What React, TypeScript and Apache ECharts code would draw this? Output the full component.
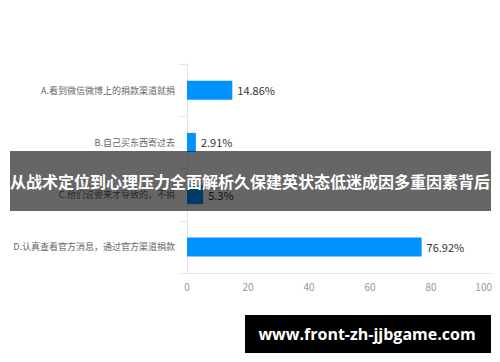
import React, { useEffect, useRef } from "react";
import * as echarts from "echarts";

const categories = [
  "A.看到微信微博上的捐款渠道就捐",
  "B.自己买东西寄过去",
  "C.他们说要来才导致的，不捐",
  "D.认真查看官方消息，通过官方渠道捐款",
];
const values = [14.86, 2.91, 5.3, 76.92];
const xTicks = [0, 20, 40, 60, 80, 100];
const bannerTitle = "从战术定位到心理压力全面解析久保建英状态低迷成因多重因素背后";
const watermark = "www.front-zh-jjbgame.com";

const FONT = "'Noto Sans CJK SC', 'Noto Sans', sans-serif";

export default function App() {
  const ref = useRef<HTMLDivElement>(null);
  useEffect(() => {
    if (!ref.current) return;
    const chart = echarts.init(ref.current, undefined, { renderer: "svg" });
    chart.setOption({
      animation: false,
      textStyle: { fontFamily: FONT },
      grid: { left: 187, right: 8, top: 64, bottom: 89, containLabel: false },
      xAxis: {
        type: "value",
        min: xTicks[0],
        max: xTicks[xTicks.length - 1],
        interval: 20,
        axisLine: { show: true, lineStyle: { color: "#E0E6F1" } },
        axisTick: { show: false },
        splitLine: { show: false },
        axisLabel: { color: "#999", fontSize: 10, margin: 8, alignMaxLabel: "right", fontFamily: FONT },
      },
      yAxis: {
        type: "category",
        inverse: true,
        data: categories,
        axisLine: { show: true, lineStyle: { color: "#E0E6F1" } },
        axisTick: { show: true, length: 8, lineStyle: { color: "#E0E6F1" } },
        axisLabel: { color: "#666", fontSize: 9, margin: 12, fontFamily: FONT },
      },
      series: [
        {
          type: "bar",
          data: values,
          barWidth: 19,
          itemStyle: { color: "#0092FF" },
          label: {
            show: true,
            position: "right",
            distance: 5,
            color: "#333",
            fontSize: 11,
            fontFamily: FONT,
            formatter: (p: any) => p.value + "%",
          },
        },
      ],
      graphic: [
        {
          type: "rect",
          z: 100,
          shape: { x: 10, y: 151, width: 481, height: 60 },
          style: { fill: "rgba(0,0,0,0.6)" },
        },
        {
          type: "text",
          z: 101,
          x: 250,
          y: 181,
          style: {
            text: bannerTitle,
            fill: "#fff",
            fontSize: 16,
            fontWeight: "bold",
            fontFamily: FONT,
            align: "center",
            verticalAlign: "middle",
          },
        },
        {
          type: "rect",
          z: 100,
          shape: { x: 245, y: 315, width: 246, height: 38 },
          style: { fill: "#000" },
        },
        {
          type: "text",
          z: 101,
          x: 367,
          y: 334,
          style: {
            text: watermark,
            fill: "#fff",
            fontSize: 16,
            fontWeight: "bold",
            fontFamily: "'Open Sans', 'DejaVu Sans', sans-serif",
            align: "center",
            verticalAlign: "middle",
          },
        },
      ],
    });
    return () => chart.dispose();
  }, []);
  return (
    <div
      ref={ref}
      style={{ position: "absolute", left: 0, top: 0, width: 500, height: 362, background: "#fff" }}
    />
  );
}
